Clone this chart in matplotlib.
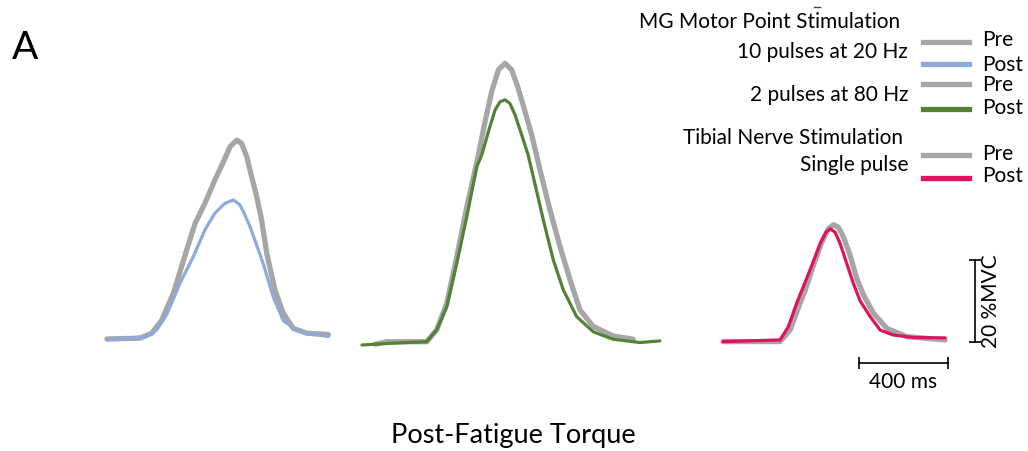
import numpy as np
import matplotlib
matplotlib.use("Agg")
import matplotlib.pyplot as plt
from matplotlib.lines import Line2D

plt.rcParams['font.family'] = ['Lato', 'DejaVu Sans']

# torque traces, time in ms from trace start, torque in %MVC above baseline
t_20hz_pre = [0, 148, 201, 246, 298, 358, 396, 440, 485, 523, 553, 583, 605, 628, 650, 673, 695, 718, 755, 792, 837, 898, 995]
v_20hz_pre = [0, 0.2, 1.4, 4.6, 11.1, 21.7, 28.2, 33.1, 38.8, 43.2, 46.9, 48.5, 47.7, 44.5, 39.6, 34.7, 29.0, 20.9, 11.9, 6.3, 2.6, 1.4, 1.1]
t_20hz_post = [0, 178, 223, 268, 328, 388, 440, 485, 530, 568, 598, 620, 643, 702, 747, 792, 853, 912, 995]
v_20hz_post = [-0.2, 0.6, 2.2, 5.9, 13.6, 20.1, 26.6, 30.7, 33.1, 33.9, 32.7, 30.2, 27.4, 18.4, 10.3, 4.5, 2.1, 1.3, 0.6]

t_80hz_pre = [60, 111, 291, 336, 381, 426, 471, 523, 553, 583, 613, 643, 673, 702, 733, 763, 800, 845, 890, 935, 980, 1040, 1129, 1219]
v_80hz_pre = [0.2, 0.8, 0.8, 3.7, 10.2, 21.5, 33.7, 46.3, 54.5, 61.8, 67.1, 68.7, 67.1, 62.6, 56.9, 51.2, 42.7, 32.9, 24.0, 15.9, 8.5, 4.5, 2.2, 1.4]
t_80hz_post = [0, 126, 291, 336, 381, 426, 471, 516, 538, 568, 598, 620, 643, 665, 688, 718, 747, 770, 815, 860, 905, 965, 1040, 1129, 1249, 1339]
v_80hz_post = [0, 0.4, 0.8, 3.7, 9.3, 19.9, 31.3, 43.5, 46.3, 52.0, 57.3, 59.3, 59.8, 58.9, 56.1, 51.2, 46.3, 41.0, 30.5, 20.7, 13.4, 6.9, 3.2, 1.4, 0.6, 1.0]

t_tib_pre = [0, 256, 301, 346, 369, 406, 444, 473, 496, 518, 541, 571, 601, 631, 676, 736, 826, 998]
v_tib_pre = [0.1, 0.1, 2.9, 9.5, 12.6, 18.7, 24.4, 27.6, 28.6, 28.0, 25.6, 21.1, 15.4, 11.5, 7.0, 3.3, 1.3, 0.5]
t_tib_post = [0, 256, 293, 331, 351, 399, 436, 463, 481, 503, 526, 556, 586, 616, 661, 706, 765, 855, 998]
v_tib_post = [0.1, 0.5, 3.7, 9.5, 12.2, 18.7, 24.0, 26.8, 27.6, 26.8, 24.0, 19.1, 14.2, 10.0, 6.2, 2.9, 1.7, 1.1, 1.0]

scale_ms = 400
scale_mvc = 20

gray = '#a6a6a6'
blue = '#8eaadb'
green = '#548235'
red = '#e0115f'

W, H = 1028, 451
px_per_ms = 0.2225
px_per_mvc = 4.1
x0_px, y0_px = 107, 339   # where the first trace starts

fig = plt.figure(figsize=(W / 100, H / 100), dpi=100)
ax = fig.add_axes([0, 0, 1, 1])
ax.set_xlim(-x0_px / px_per_ms, (W - x0_px) / px_per_ms)
ax.set_ylim(-(H - y0_px) / px_per_mvc, y0_px / px_per_mvc)
ax.axis('off')

# panel offsets (ms, %MVC)
panels = [
    (0, 0, t_20hz_pre, v_20hz_pre, t_20hz_post, v_20hz_post, blue),
    (1146, -1.46, t_80hz_pre, v_80hz_pre, t_80hz_post, v_80hz_post, green),
    (2769, -0.73, t_tib_pre, v_tib_pre, t_tib_post, v_tib_post, red),
]
for dx, dy, tp, vp, tq, vq, col in panels:
    ax.plot(np.array(tp) + dx, np.array(vp) + dy, color=gray, lw=3.8,
            solid_capstyle='round', solid_joinstyle='round')
    ax.plot(np.array(tq) + dx, np.array(vq) + dy, color=col, lw=2.3,
            solid_capstyle='round', solid_joinstyle='round')

# scale bars next to the last trace
dx, dy = 2769, -0.73
hx = np.array([611, 611 + scale_ms]) + dx
hy = dy - 5.1
ax.plot(hx, [hy, hy], color='black', lw=1.2, marker='|', ms=9, mew=1.2)
ax.text(hx.mean(), hy - 4.6, '%d ms' % scale_ms, ha='center', va='center', fontsize=15)
vx = dx + 1133
ax.plot([vx, vx], [dy, dy + scale_mvc], color='black', lw=1.2, marker='_', ms=9, mew=1.2)
ax.text(vx + 25, dy + scale_mvc / 2, '%d %%MVC' % scale_mvc, rotation=90,
        ha='left', va='center', fontsize=15)

def fx(px):
    return px / W

def fy(py):
    return 1 - py / H

fig.text(fx(12), fy(48), 'A', fontsize=28, ha='left', va='center')
fig.text(fx(513), fy(435), 'Post-Fatigue Torque', fontsize=19.5, ha='center', va='center')

# legend block
fs = 15
fig.text(fx(900), fy(22), 'MG Motor Point Stimulation', fontsize=fs, ha='right', va='center')
fig.text(fx(908), fy(52), '10 pulses at 20 Hz', fontsize=fs, ha='right', va='center')
fig.text(fx(908), fy(95), '2 pulses at 80 Hz', fontsize=fs, ha='right', va='center')
fig.text(fx(903), fy(138), 'Tibial Nerve Stimulation', fontsize=fs, ha='right', va='center')
fig.text(fx(908), fy(165), 'Single pulse', fontsize=fs, ha='right', va='center')

entries = [(42, 40, gray, 'Pre'), (64, 65, blue, 'Post'),
           (84, 85, gray, 'Pre'), (109, 108, green, 'Post'),
           (155, 154, gray, 'Pre'), (178, 176, red, 'Post')]
for ly, ty, col, lab in entries:
    fig.add_artist(Line2D([fx(923), fx(969)], [fy(ly), fy(ly)], color=col, lw=3.8))
    fig.text(fx(982), fy(ty), lab, fontsize=fs, ha='left', va='center')

fig.add_artist(Line2D([fx(814), fx(820)], [fy(7), fy(7)], color='#444444', lw=1))

fig.savefig('out.png', dpi=100)
